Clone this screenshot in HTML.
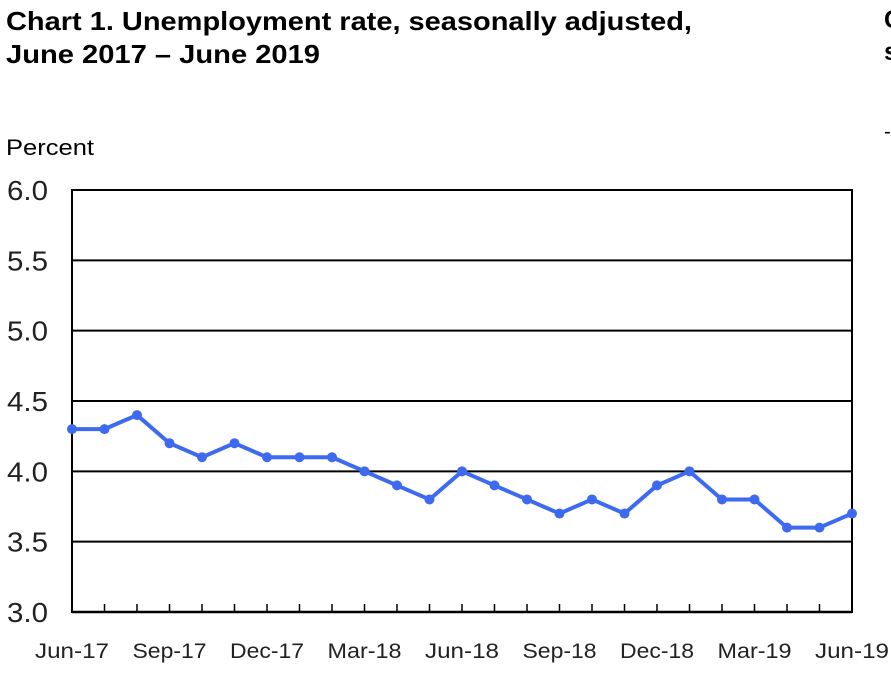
<!DOCTYPE html>
<html><head><meta charset="utf-8"><style>
body{margin:0;background:#fff;width:891px;height:684px;overflow:hidden;font-family:"Liberation Sans",Arial,sans-serif}
svg{position:absolute;left:0;top:0}
</style></head><body>
<svg width="891" height="684" id="chart">
<text x="6" y="30" font-size="26" font-weight="bold" fill="#000" textLength="686" lengthAdjust="spacingAndGlyphs">Chart 1. Unemployment rate, seasonally adjusted,</text>
<text x="6" y="63" font-size="26" font-weight="bold" fill="#000" textLength="314" lengthAdjust="spacingAndGlyphs">June 2017 – June 2019</text>
<text x="884" y="28" font-size="25" font-weight="bold" fill="#000">C</text>
<text x="884" y="60" font-size="25" font-weight="bold" fill="#000">s</text>
<text x="884" y="138" font-size="20" fill="#000">-</text>
<text x="6" y="155" font-size="22" fill="#000" textLength="88" lengthAdjust="spacingAndGlyphs">Percent</text>
<g id="grid"></g><g id="series"></g>
</svg>
<script>
const categories=["Jun-17","Jul-17","Aug-17","Sep-17","Oct-17","Nov-17","Dec-17","Jan-18","Feb-18","Mar-18","Apr-18","May-18","Jun-18","Jul-18","Aug-18","Sep-18","Oct-18","Nov-18","Dec-18","Jan-19","Feb-19","Mar-19","Apr-19","May-19","Jun-19"];
const rates=[4.3,4.3,4.4,4.2,4.1,4.2,4.1,4.1,4.1,4.0,3.9,3.8,4.0,3.9,3.8,3.7,3.8,3.7,3.9,4.0,3.8,3.8,3.6,3.6,3.7];
const yTicks=[3.0,3.5,4.0,4.5,5.0,5.5,6.0];
const xLabelIdx=[0,3,6,9,12,15,18,21,24];
const NS="http://www.w3.org/2000/svg";
const L=72,R=852,T=190,B=612,yMin=3,yMax=6;
const x=i=>L+(R-L)*i/(categories.length-1);
const y=v=>B-(v-yMin)/(yMax-yMin)*(B-T);
function mk(t,a,p){const e=document.createElementNS(NS,t);for(const k in a)e.setAttribute(k,a[k]);p.appendChild(e);return e;}
const g=document.getElementById('grid'),s=document.getElementById('series');
yTicks.forEach(v=>{
 const ln=mk('line',{x1:L,x2:R,y1:y(v),y2:y(v),stroke:'#000','stroke-width':v==yMin?2.5:2},g);
 
 
 const t=mk('text',{x:7,y:y(v)+10,'font-size':28,fill:'#222',textLength:41,lengthAdjust:'spacingAndGlyphs'},g);t.textContent=v.toFixed(1);
 
 
});
const fr=mk('rect',{x:L,y:T,width:R-L,height:B-T,fill:'none',stroke:'#000','stroke-width':2},g);


categories.forEach((c,i)=>{
 const tk=mk('line',{x1:x(i),x2:x(i),y1:B,y2:B-8,stroke:'#000','stroke-width':1.5},g);
 
 
});
xLabelIdx.forEach(i=>{
 const t=mk('text',{x:x(i),y:658,'font-size':21,fill:'#222','text-anchor':'middle',textLength:74,lengthAdjust:'spacingAndGlyphs'},g);t.textContent=categories[i];
 
 
});
const pl=mk('polyline',{points:rates.map((v,i)=>x(i)+','+y(v)).join(' '),fill:'none',stroke:'#3d6af0','stroke-width':4,'stroke-linejoin':'round'},s);


rates.forEach((v,i)=>{
 const c=mk('circle',{cx:x(i),cy:y(v),r:5,fill:'#3d6af0'},s);
 
 
});
</script>
</body></html>
